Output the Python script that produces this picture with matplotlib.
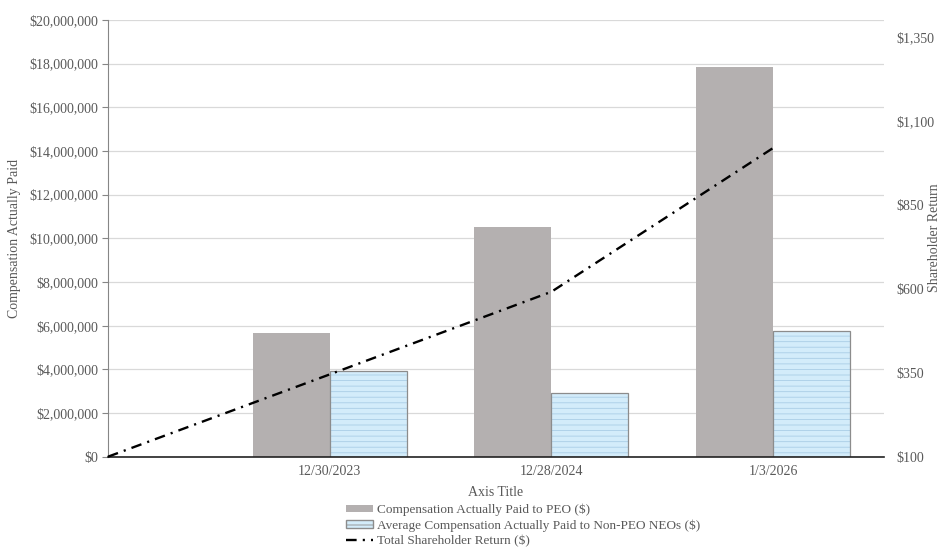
import matplotlib.pyplot as plt
from matplotlib.lines import Line2D
from matplotlib.patches import Patch
import matplotlib as mpl

plt.rcParams['font.family'] = ['Liberation Serif', 'DejaVu Serif']
mpl.rcParams['hatch.linewidth'] = 0.6

# ---------------------------------------------------------------------------
# Data
# ---------------------------------------------------------------------------
categories = ["12/30/2023", "12/28/2024", "1/3/2026"]
peo_cap = [5_650_000, 10_520_000, 17_860_000]
neo_cap = [3_940_000, 2_930_000, 5_760_000]
tsr = [100, 345, 591, 1019]          # starting $100 plus three year-ends

left_ticks = list(range(0, 20_000_001, 2_000_000))
right_ticks = [100, 350, 600, 850, 1100, 1350]

GRAY = "#595959"
PEO_COLOR = "#B4B0B0"
NEO_COLOR = "#D3ECFA"
NEO_HATCH = "#A9CDE6"
FS = 10
TSR_STYLE = (0, (4.5, 2.6, 0.9, 2.6))

fig = plt.figure(figsize=(9.41, 5.48), dpi=100)
ax = fig.add_axes([108 / 941, 1 - 456.7 / 548, (884 - 108) / 941, (456.7 - 20) / 548])

bar_w = 0.347
xpos = [1, 2, 3]
ax.bar([x - bar_w / 2 for x in xpos], peo_cap, width=bar_w, color=PEO_COLOR,
       edgecolor="none", zorder=2)
# fill + dashed hatch, then the outline on top
ax.bar([x + bar_w / 2 for x in xpos], neo_cap, width=bar_w, color=NEO_COLOR,
       edgecolor=NEO_HATCH, linewidth=0, hatch="---", zorder=2)
ax.bar([x + bar_w / 2 for x in xpos], neo_cap, width=bar_w, fill=False,
       edgecolor="#8C8C8C", linewidth=0.9, zorder=3)

ax.set_xlim(0, 3.5)
ax.set_ylim(0, 20_000_000)
ax.set_yticks(left_ticks)
ax.set_yticklabels([f"${v:,.0f}" for v in left_ticks], fontsize=FS, color=GRAY)
ax.set_xticks(xpos)
ax.set_xticklabels(categories, fontsize=FS, color=GRAY)
ax.tick_params(axis="x", length=0, pad=6)
ax.tick_params(axis="y", length=4, direction="out", color="#868686", pad=3)
ax.grid(axis="y", color="#D9D9D9", linewidth=0.9, zorder=0)
ax.set_axisbelow(True)
for s in ["top", "right"]:
    ax.spines[s].set_visible(False)
ax.spines["left"].set_color("#868686")
ax.spines["bottom"].set_color("#222222")
ax.spines["bottom"].set_linewidth(1.2)
ax.spines["bottom"].set_zorder(4)
ax.set_ylabel("Compensation Actually Paid", fontsize=FS, color=GRAY, labelpad=6)
ax.set_xlabel("Axis Title", fontsize=FS, color=GRAY, labelpad=6)

ax2 = ax.twinx()
ax2.plot(range(len(tsr)), tsr, color="black", linewidth=1.7,
         linestyle=TSR_STYLE, zorder=5, clip_on=False)
ax2.set_ylim(100, 1400)
ax2.set_yticks(right_ticks)
ax2.set_yticklabels([f"${v:,.0f}" for v in right_ticks], fontsize=FS, color=GRAY)
ax2.tick_params(axis="y", length=0, pad=9)
for s in ["top", "right", "left", "bottom"]:
    ax2.spines[s].set_visible(False)
fig.text(935 / 941, 1 - 238 / 548, "Shareholder Return", rotation=90,
         ha="center", va="center", fontsize=FS, color=GRAY)

handles = [
    Patch(facecolor=PEO_COLOR, edgecolor="none", label="Compensation Actually Paid to PEO ($)"),
    Patch(facecolor=NEO_COLOR, edgecolor="#8C8C8C", hatch="---",
          label="Average Compensation Actually Paid to Non-PEO NEOs ($)"),
    Line2D([0], [0], color="black", linewidth=1.7, linestyle=TSR_STYLE,
           label="Total Shareholder Return ($)"),
]
fig.legend(handles=handles, loc="upper left", bbox_to_anchor=(339 / 941, 1 - 497 / 548),
           frameon=False, fontsize=9.5, handlelength=2.1, handleheight=0.5,
           labelspacing=0.25, borderpad=0, handletextpad=0.3, labelcolor=GRAY)

fig.savefig("out.png", dpi=100)
